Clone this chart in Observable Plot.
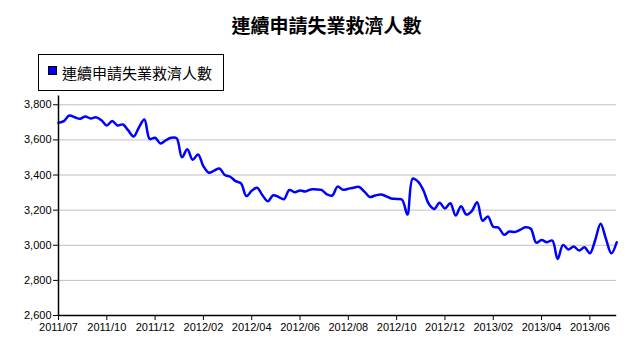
<!DOCTYPE html>
<html><head><meta charset="utf-8">
<script src="https://cdn.jsdelivr.net/npm/d3@7"></script>
<script src="https://cdn.jsdelivr.net/npm/@observablehq/plot@0.6"></script>
<style>
body{margin:0;background:#fff;width:634px;height:360px;overflow:hidden;font-family:"Liberation Sans",Arial,sans-serif;}
#head{position:relative;width:634px;height:90px;}
#title{position:absolute;left:326.5px;top:15px;transform:translateX(-50%);white-space:nowrap;font:bold 19px/19px "Noto Sans CJK TC","Noto Sans CJK SC",sans-serif;color:#000;}
#legend{position:absolute;left:38px;top:54px;width:186px;height:37px;box-sizing:border-box;border:1px solid #000;background:#fff;}
#swatch{position:absolute;left:9px;top:11px;width:9px;height:9px;box-sizing:border-box;background:#0000ff;border:1px solid #000;}
#ltext{position:absolute;left:23px;top:10px;white-space:nowrap;font:15px/15px "Noto Sans CJK TC","Noto Sans CJK SC",sans-serif;color:#000;}
#chart svg{display:block;}
</style>
</head><body>
<div id="head">
  <div id="title"></div>
  <div id="legend"><div id="swatch"></div><div id="ltext"></div></div>
</div>
<div id="chart"></div>
<script>
const titleText = "連續申請失業救濟人數";
const seriesName = "連續申請失業救濟人數";
const startDate = "2011-07-30";
const values = [
 3697,3707,3739,3729,3720,3733,3722,3729,3712,3682,
 3707,3682,3688,3654,3619,3672,3716,3605,3612,3580,
 3598,3612,3610,3501,3547,3487,3517,3450,3413,3425,
 3437,3400,3390,3365,3353,3280,3310,3328,3285,3250,
 3285,3275,3262,3315,3302,3312,3306,3318,3318,3315,
 3290,3283,3334,3316,3322,3328,3332,3305,3275,3283,
 3289,3280,3266,3264,3260,3175,3380,3362,3312,3235,
 3207,3242,3210,3239,3169,3222,3175,3195,3245,3140,
 3164,3105,3100,3060,3078,3075,3088,3103,3094,3015,
 3030,3017,3027,2922,3002,2976,2993,2970,2989,2954,
 3030,3122,3036,2954,3017
];
const xTickWeeks = [0,9,18,27,36,45,54,63,72,81,90,99];
const xTickLabels = ["2011/07","2011/10","2011/12","2012/02","2012/04","2012/06","2012/08","2012/10","2012/12","2013/02","2013/04","2013/06"];
const yTicks = [2600,2800,3000,3200,3400,3600,3800];
const yDomain = [2600,3850];

document.getElementById("title").textContent = titleText;
document.getElementById("ltext").textContent = seriesName;

const t0 = new Date(startDate + "T00:00:00Z");
const dates = values.map((_, i) => d3.utcDay.offset(t0, i * 7));
const rows = values.map((v, i) => ({date: dates[i], value: v}));
const tickDates = xTickWeeks.map(w => dates[w]);
const labelMap = new Map(xTickWeeks.map((w, i) => [+dates[w], xTickLabels[i]]));

const chart = Plot.plot({
  width: 634, height: 270,
  marginTop: 5.5, marginBottom: 45, marginLeft: 58, marginRight: 17.8,
  style: {fontFamily: '"Liberation Sans", Arial, sans-serif', fontSize: "11px", color: "#000", background: "#fff"},
  x: {type: "utc", domain: [dates[0], dates[dates.length - 1]], axis: null},
  y: {domain: yDomain, axis: null},
  marks: [
    Plot.gridY(yTicks, {stroke: "#c0c0c0", strokeOpacity: 1}),
    Plot.line(rows, {x: "date", y: "value", stroke: "#0000ff", strokeWidth: 2.5, curve: "catmull-rom"}),
    Plot.axisY(yTicks, {label: null, tickSize: 5, tickPadding: 2, tickFormat: d3.format(","), stroke: "#000", strokeOpacity: 1, fill: "#000"}),
    Plot.axisX(tickDates, {label: null, tickSize: 5, tickPadding: 3, tickFormat: d => labelMap.get(+d), stroke: "#000", strokeOpacity: 1, fill: "#000"}),
    Plot.ruleX([dates[0]], {stroke: "#000", strokeWidth: 1.5}),
    Plot.ruleY([yDomain[0]], {stroke: "#000", strokeWidth: 1.5})
  ]
});
document.getElementById("chart").appendChild(chart);
</script>
</body></html>
